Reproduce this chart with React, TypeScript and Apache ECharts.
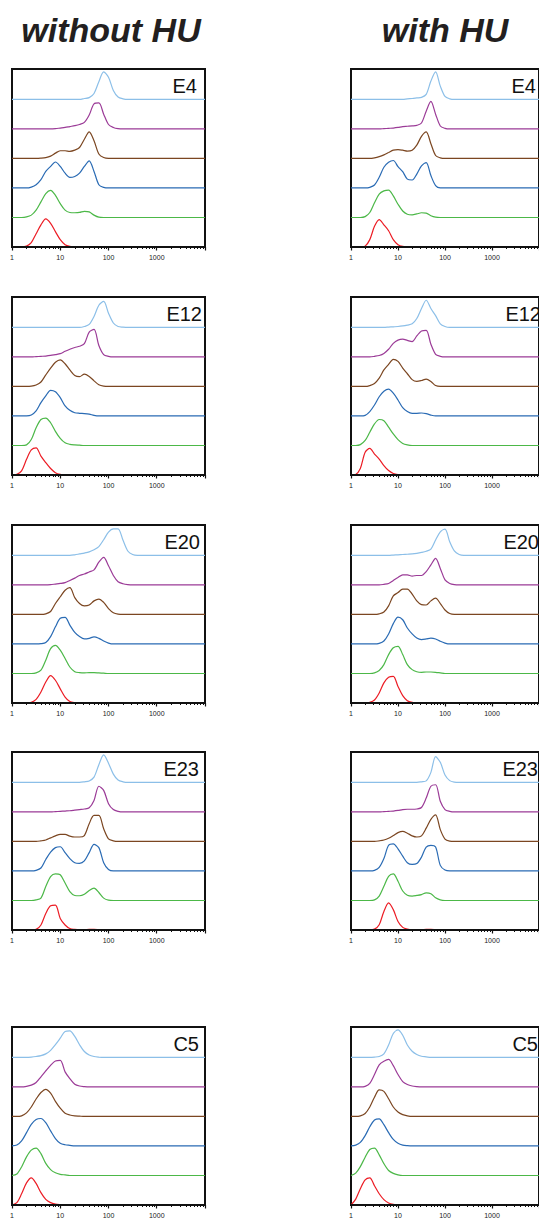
import React, { useEffect, useRef } from "react";
import * as echarts from "echarts";

// x grid (fluorescence intensity, log spaced by 0.1 decade) shared by every trace
const X_VALUES = [1, 1.26, 1.58, 2, 2.51, 3.16, 3.98, 5.01, 6.31, 7.94, 10, 12.6, 15.8, 20, 25.1, 31.6, 39.8, 50.1, 63.1, 79.4, 100, 126, 158, 200, 251, 316, 398, 501, 631, 10000];
const MAJOR_TICKS = [1, 10, 100, 1000, 10000];
const TICK_LABELS = [1, 10, 100, 1000];
const MINOR_TICKS = [2, 3, 4, 5, 6, 7, 8, 9, 20, 30, 40, 50, 60, 70, 80, 90, 200, 300, 400, 500, 600, 700, 800, 900, 2000, 3000, 4000, 5000, 6000, 7000, 8000, 9000];
const PANEL_NAMES = ["E4", "E12", "E20", "E23", "C5"];
const CONDITIONS = ["without HU", "with HU"];
// bottom to top: red, green, blue, brown, purple, light blue
const TRACE_COLORS = ["#ec1c24", "#4cb848", "#2a6bb4", "#7b4621", "#9b3b97", "#8cbfe8"];

// heights in % of the trace spacing, one row per trace (bottom to top)
const E4_WITHOUT = [
  [0,0,0,3,15,45,75,95,80,52, 25,8,2,0,0,0,0,0,0,0, 0,0,0,0,0,0,0,0,0,0],
  [0,0,0,2,8,25,53,81,92,75, 47,25,17,16,17,21,19,8,1,0, 0,0,0,0,0,0,0,0,0,0],
  [0,0,0,0,3,11,28,56,73,88, 73,50,36,39,50,73,92,56,11,2, 0,0,0,0,0,0,0,0,0,0],
  [0,0,0,0,0,0,1,3,8,18, 26,26,24,28,37,65,90,60,15,3, 0,0,0,0,0,0,0,0,0,0],
  [0,0,0,0,0,0,0,0,0,1, 3,5,8,11,15,22,47,85,88,50, 15,5,1,0,0,0,0,0,0,0],
  [0,0,0,0,0,0,0,0,0,0, 0,0,0,0,0,3,6,20,60,93, 75,30,8,2,0,0,0,0,0,0],
];
const E4_WITH = [
  [0,0,0,3,25,70,93,75,55,25, 8,2,1,0,0,0,0,0,0,0, 0,0,0,0,0,0,0,0,0,0],
  [0,0,0,3,17,50,79,90,93,73, 45,22,11,9,12,16,15,6,1,0, 0,0,0,0,0,0,0,0,0,0],
  [0,0,0,0,2,10,36,70,87,93, 72,55,30,27,47,75,86,42,8,0, 0,0,0,0,0,0,0,0,0,0],
  [0,0,0,0,0,2,6,12,20,28, 30,28,25,28,45,75,90,50,10,2, 0,0,0,0,0,0,0,0,0,0],
  [0,0,0,0,0,0,0,1,2,3, 5,8,9,10,12,20,60,93,50,10, 2,0,0,0,0,0,0,0,0,0],
  [0,0,0,0,0,0,0,0,0,0, 0,0,2,3,5,7,17,62,93,45, 10,2,0,0,0,0,0,0,0,0],
];
const E12_WITHOUT = [
  [0,2,14,53,85,92,64,42,22,8, 2,0,0,0,0,0,0,0,0,0, 0,0,0,0,0,0,0,0,0,0],
  [0,0,0,2,20,60,88,93,77,48, 24,9,4,2,1,0,0,0,0,0, 0,0,0,0,0,0,0,0,0,0],
  [0,0,0,0,3,17,45,68,87,82, 62,34,19,11,9,8,6,2,0,0, 0,0,0,0,0,0,0,0,0,0],
  [0,0,0,0,1,5,15,39,62,82, 90,77,56,37,33,42,34,19,6,1, 0,0,0,0,0,0,0,0,0,0],
  [0,0,0,0,0,1,2,3,5,8, 11,19,26,32,36,45,84,93,39,8, 2,0,0,0,0,0,0,0,0,0],
  [0,0,0,0,0,0,0,0,0,0, 0,0,0,0,0,3,10,37,75,88, 48,15,3,1,0,0,0,0,0,0],
];
const E12_WITH = [
  [0,2,22,77,90,71,54,32,15,5, 1,0,0,0,0,0,0,0,0,0, 0,0,0,0,0,0,0,0,0,0],
  [0,0,3,17,45,73,88,84,62,39, 20,7,2,0,0,0,0,0,0,0, 0,0,0,0,0,0,0,0,0,0],
  [0,0,0,2,15,37,65,84,91,77, 54,28,15,9,9,10,8,3,0,0, 0,0,0,0,0,0,0,0,0,0],
  [0,0,0,0,3,10,28,56,75,92, 85,62,43,23,17,20,25,17,3,0, 0,0,0,0,0,0,0,0,0,0],
  [0,0,0,0,0,2,5,12,26,46, 57,60,56,52,71,88,90,43,9,2, 0,0,0,0,0,0,0,0,0,0],
  [0,0,0,0,0,0,0,0,1,2, 3,5,8,12,30,64,92,64,40,12, 3,0,0,0,0,0,0,0,0,0],
];
const E20_WITHOUT = [
  [0,0,0,0,2,12,37,71,93,77, 48,20,5,1,0,0,0,0,0,0, 0,0,0,0,0,0,0,0,0,0],
  [0,0,0,0,0,2,11,45,84,95, 79,51,22,6,3,2,3,3,2,1, 0,0,0,0,0,0,0,0,0,0],
  [0,0,0,0,0,0,1,5,25,58, 87,90,64,39,25,17,19,24,19,10, 3,0,0,0,0,0,0,0,0,0],
  [0,0,0,0,0,0,0,2,10,37, 60,82,91,57,37,29,32,46,52,41, 20,6,1,0,0,0,0,0,0,0],
  [0,0,0,0,0,0,0,0,1,3, 5,8,15,23,32,37,44,51,77,93, 65,32,11,4,1,0,0,0,0,0],
  [0,0,0,0,0,0,0,0,0,0, 0,0,0,2,5,8,12,19,30,53, 79,90,90,51,15,3,0,0,0,0],
];
const E20_WITH = [
  [0,0,0,0,2,10,34,68,87,90, 56,25,8,2,0,0,0,0,0,0, 0,0,0,0,0,0,0,0,0,0],
  [0,0,0,0,0,2,10,30,64,87, 92,64,30,13,6,4,5,5,4,2, 0,0,0,0,0,0,0,0,0,0],
  [0,0,0,0,0,0,2,10,34,69, 91,82,54,34,20,15,17,20,17,9, 3,0,0,0,0,0,0,0,0,0],
  [0,0,0,0,0,0,2,8,29,63, 74,86,86,69,46,33,32,46,55,37, 15,3,0,0,0,0,0,0,0,0],
  [0,0,0,0,0,0,0,2,5,15, 25,34,34,30,32,32,45,68,90,56, 17,5,1,0,0,0,0,0,0,0],
  [0,0,0,0,0,0,0,0,0,1, 2,3,4,5,7,10,14,21,52,80, 89,46,15,3,0,0,0,0,0,0],
];
const E23_WITHOUT = [
  [0,0,0,0,0,2,17,56,82,84, 39,17,5,2,1,1,2,2,1,0, 0,0,0,0,0,0,0,0,0,0],
  [0,0,0,0,0,2,8,47,81,90, 87,59,30,17,16,21,34,42,27,8, 1,0,0,0,0,0,0,0,0,0],
  [0,0,0,0,0,2,10,39,64,79, 82,62,42,28,26,34,62,90,79,28, 5,0,0,0,0,0,0,0,0,0],
  [0,0,0,0,0,0,2,5,12,19, 24,24,18,15,15,20,60,88,88,43, 9,2,0,0,0,0,0,0,0,0],
  [0,0,0,0,0,0,0,0,0,1, 2,3,4,6,8,10,14,39,87,73, 28,8,2,0,0,0,0,0,0,0],
  [0,0,0,0,0,0,0,0,0,0, 0,0,0,0,0,2,5,18,60,93, 65,28,8,2,0,0,0,0,0,0],
];
const E23_WITH = [
  [0,0,0,0,0,3,18,63,92,69, 29,9,3,1,1,1,2,2,1,0, 0,0,0,0,0,0,0,0,0,0],
  [0,0,0,0,0,2,15,48,82,90, 65,32,18,15,17,20,26,23,9,2, 0,0,0,0,0,0,0,0,0,0],
  [0,0,0,0,0,2,12,42,87,92, 75,50,28,22,25,47,81,87,81,19, 3,0,0,0,0,0,0,0,0,0],
  [0,0,0,0,0,0,2,5,11,20, 30,34,28,19,15,19,45,75,90,40, 8,1,0,0,0,0,0,0,0,0],
  [0,0,0,0,0,0,0,1,2,3, 5,8,9,9,10,15,47,87,92,36, 8,2,0,0,0,0,0,0,0,0],
  [0,0,0,0,0,0,0,0,0,0, 0,0,0,0,0,2,5,34,87,68, 25,6,1,0,0,0,0,0,0,0],
];
const C5_WITHOUT = [
  [0,8,38,75,92,73,42,19,8,3, 1,0,0,0,0,0,0,0,0,0, 0,0,0,0,0,0,0,0,0,0],
  [0,5,29,63,86,93,74,41,20,9, 4,2,0,0,0,0,0,0,0,0, 0,0,0,0,0,0,0,0,0,0],
  [0,3,17,45,73,90,93,79,51,25, 9,4,2,0,0,0,0,0,0,0, 0,0,0,0,0,0,0,0,0,0],
  [0,0,2,12,32,59,81,92,79,51, 28,11,5,2,1,0,0,0,0,0, 0,0,0,0,0,0,0,0,0,0],
  [0,0,0,2,6,15,34,54,73,88, 90,51,28,9,3,1,0,0,0,0, 0,0,0,0,0,0,0,0,0,0],
  [0,0,0,0,1,3,6,12,24,43, 65,88,90,71,43,20,8,3,1,0, 0,0,0,0,0,0,0,0,0,0],
];
const C5_WITH = [
  [0,20,55,85,92,65,38,18,7,2, 0,0,0,0,0,0,0,0,0,0, 0,0,0,0,0,0,0,0,0,0],
  [0,8,30,62,88,93,70,40,17,7, 2,0,0,0,0,0,0,0,0,0, 0,0,0,0,0,0,0,0,0,0],
  [0,3,12,35,65,88,92,72,45,22, 9,3,1,0,0,0,0,0,0,0, 0,0,0,0,0,0,0,0,0,0],
  [0,0,2,10,32,65,90,85,60,32, 15,6,2,0,0,0,0,0,0,0, 0,0,0,0,0,0,0,0,0,0],
  [0,0,0,2,12,42,75,87,93,72, 42,18,8,3,1,0,0,0,0,0, 0,0,0,0,0,0,0,0,0,0],
  [0,0,0,0,0,1,3,12,42,81, 93,75,42,21,10,4,2,0,0,0, 0,0,0,0,0,0,0,0,0,0],
];

const PANEL_DATA = [
  [E4_WITHOUT, E4_WITH],
  [E12_WITHOUT, E12_WITH],
  [E20_WITHOUT, E20_WITH],
  [E23_WITHOUT, E23_WITH],
  [C5_WITHOUT, C5_WITH],
];

// layout
const PANEL_TOPS = [69, 297, 525, 752, 1027];
const PANEL_H = 178;
const PANEL_W = 193;
const COL_LEFT = [12, 351];
const Y_MAX = 603;
const LABEL_RIGHT = [197, 202, 200, 199, 199];
const TITLE_X = [111, 445];

export default function App() {
  const ref = useRef<HTMLDivElement>(null);

  useEffect(() => {
    if (!ref.current) return;
    const chart = echarts.init(ref.current, null, { renderer: "svg" });

    const grids: any[] = [];
    const xAxes: any[] = [];
    const yAxes: any[] = [];
    const series: any[] = [];
    const graphics: any[] = [];
    let k = 0;

    PANEL_DATA.forEach((pair, row) => {
      pair.forEach((traces, col) => {
        grids.push({
          left: COL_LEFT[col],
          top: PANEL_TOPS[row],
          width: PANEL_W,
          height: PANEL_H,
          show: true,
          borderColor: "#111",
          borderWidth: 2,
          backgroundColor: "transparent",
        });
        xAxes.push({
          type: "log",
          logBase: 10,
          gridIndex: k,
          min: 1,
          max: 10000,
          position: "bottom",
          z: 5,
          axisLine: { show: true, lineStyle: { color: "#111", width: 2 } },
          axisTick: { show: true, length: 3.5, customValues: MAJOR_TICKS, lineStyle: { color: "#111", width: 1.2 } },
          axisLabel: {
            show: true,
            customValues: TICK_LABELS,
            fontSize: 7,
            color: "#222",
            margin: 7,
            fontFamily: "Liberation Sans, Arial, sans-serif",
            formatter: (v: number) => (v >= 9999 ? "" : String(Math.round(v))),
          },
          splitLine: { show: false },
        });
        xAxes.push({
          type: "log",
          logBase: 10,
          gridIndex: k,
          min: 1,
          max: 10000,
          position: "bottom",
          z: 5,
          axisLine: { show: false },
          axisTick: { show: true, length: 2, customValues: MINOR_TICKS, lineStyle: { color: "#111", width: 1 } },
          axisLabel: { show: false },
          splitLine: { show: false },
        });
        yAxes.push({ type: "value", gridIndex: k, min: 0, max: Y_MAX, show: false, splitLine: { show: false } });

        traces.forEach((arr, i) => {
          series.push({
            type: "line",
            xAxisIndex: 2 * k,
            yAxisIndex: k,
            data: X_VALUES.map((x, j) => [x, i * 100 + arr[j]]),
            showSymbol: false,
            symbol: "none",
            smooth: 0.3,
            silent: true,
            z: 2,
            lineStyle: { color: TRACE_COLORS[i], width: 1.2 },
            itemStyle: { color: TRACE_COLORS[i] },
          });
        });

        graphics.push({
          type: "text",
          x: LABEL_RIGHT[row] + col * (COL_LEFT[1] - COL_LEFT[0]),
          y: PANEL_TOPS[row] + 16.5,
          z: 10,
          style: {
            text: PANEL_NAMES[row],
            font: '20px "Liberation Sans", Arial, sans-serif',
            fill: "#111",
            textAlign: "right",
            textVerticalAlign: "middle",
          },
        });
        k++;
      });
    });

    CONDITIONS.forEach((c, col) => {
      graphics.push({
        type: "text",
        x: TITLE_X[col],
        y: 30,
        z: 10,
        style: {
          text: c,
          font: 'italic bold 34px "Liberation Sans", Arial, sans-serif',
          fill: "#231f20",
          textAlign: "center",
          textVerticalAlign: "middle",
        },
      });
    });

    chart.setOption({
      animation: false,
      backgroundColor: "#ffffff",
      grid: grids,
      xAxis: xAxes,
      yAxis: yAxes,
      series,
      graphic: graphics,
    });

    return () => chart.dispose();
  }, []);

  return (
    <div
      ref={ref}
      style={{ position: "absolute", left: 0, top: 0, width: 539, height: 1220 }}
    />
  );
}
